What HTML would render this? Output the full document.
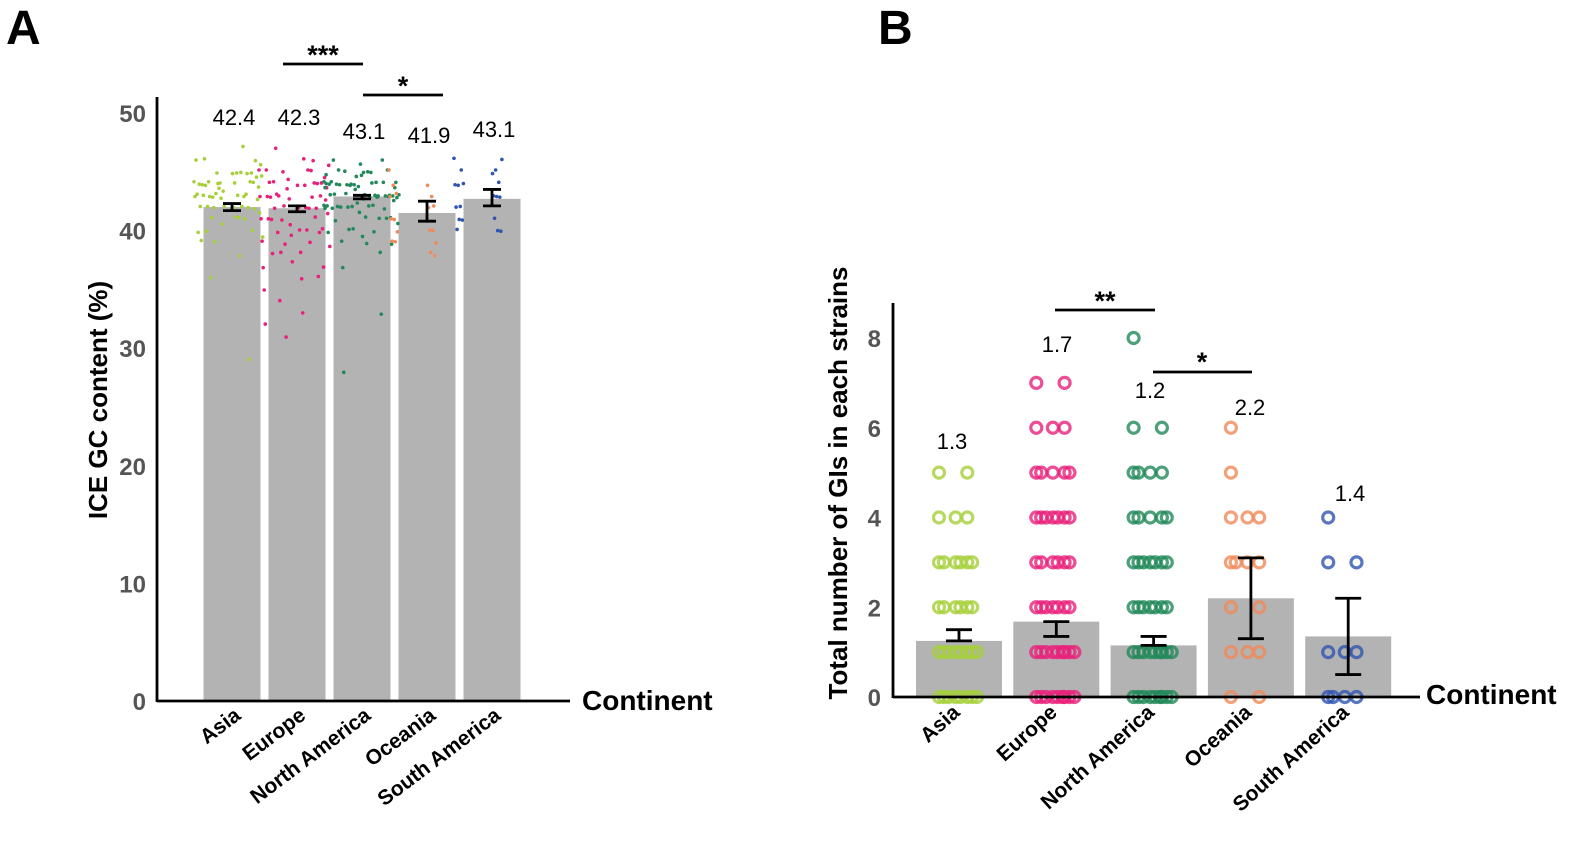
<!DOCTYPE html>
<html><head><meta charset="utf-8"><style>
html,body{margin:0;padding:0;background:#fff;}
svg{display:block;font-family:"Liberation Sans",Arial,sans-serif;}
</style></head><body>
<svg id="fig" width="1594" height="855" viewBox="0 0 1594 855"></svg>
<script>
const NS="http://www.w3.org/2000/svg";
const svg=document.getElementById('fig');
// ---- data ----
const categories=["Asia","Europe","North America","Oceania","South America"];
const colors=["#a6cf3a","#e8207a","#22885a","#f08a5a","#2f55b0"];
const gcMeans=[42.0,41.9,42.9,41.5,42.7];
const gcLabels=["42.4","42.3","43.1","41.9","43.1"];
const gcErrLo=[41.7,41.6,42.7,40.8,42.1];
const gcErrHi=[42.3,42.1,43.0,42.5,43.5];
const gcTicks=[0,10,20,30,40,50];
const gcAsia=[44,45,43,42,46,44,43,41,40,45,44,43,42,41,39,38,44,45,43,42,46,47,44,43,40,41,42,43,44,45,43,42,36,29,41,44,43,45,42,40,39,44,43,42,45,46,44,44.5,43.5,42.5,44.2,43.8,42.8,41.5,40.5,45.5,43.2,44.8,42.2,39.5];
const gcEurope=[45,44,43,42,41,40,39,38,37,36,35,33,32,46,45,44,43,42,41,40,44,45,43,42,41,39,38,45,44,43,42,46,47,44,43,41,40,42,43,44,34,36,38,40,41,43,45,44,42,40,39,37,31,44.5,43.5,42.5,44.2,43.8,42.8,41.5,40.5,45.5,39.5,38.5,37.5];
const gcNA=[44,43,42,45,44,43,42,41,40,39,44,45,43,42,44,43,42,45,46,44,43,42,41,40,44,43,42,44,45,43,44,43,42,41,39,38,37,33,28,46,45,44,43,42,44,43,42,41,40,45,44,43,44,43,42,41,40,39,44,43,43.5,42.5,44.5,43.5,42.5,44.2,43.8,42.8,41.5,40.5,45.5,43.2,44.8,42.2,39.5,43.6,42.6,44.6];
const gcOceania=[45,44,43,42,41,40,39,38,44,43,41,40,39,42,43,38,40,39];
const gcSA=[46,45,44,43,42,41,40,45,44,43,41,40,42,44,45,43,41,40,44,46];
const giMeans=[1.25,1.68,1.15,2.2,1.35];
const giLabels=["1.3","1.7","1.2","2.2","1.4"];
const giErrLo=[1.25,1.35,1.15,1.3,0.5];
const giErrHi=[1.5,1.68,1.35,3.1,2.2];
const giTicks=[0,2,4,6,8];
const giAsia=[0,0,0,0,0,0,0,0,1,1,1,1,1,1,1,1,2,2,2,2,2,2,3,3,3,3,3,3,4,4,4,5,5];
const giEurope=[0,0,0,0,0,0,0,0,0,1,1,1,1,1,1,1,1,1,2,2,2,2,2,2,2,3,3,3,3,3,3,4,4,4,4,4,4,4,5,5,5,5,5,6,6,6,7,7];
const giNA=[0,0,0,0,0,0,0,0,0,1,1,1,1,1,1,1,1,1,2,2,2,2,2,2,2,3,3,3,3,3,3,3,4,4,4,4,4,5,5,5,5,6,6,8];
const giOceania=[0,0,1,1,1,2,2,3,3,3,3,4,4,4,5,6];
const giSA=[0,0,0,0,1,1,1,3,3,4];
const gcPoints=[gcAsia,gcEurope,gcNA,gcOceania,gcSA];
const giPoints=[giAsia,giEurope,giNA,giOceania,giSA];

function el(tag,attrs,parent){const e=document.createElementNS(NS,tag);for(const k in attrs)e.setAttribute(k,attrs[k]);(parent||svg).appendChild(e);return e;}
function txt(s,attrs,parent){const e=el('text',attrs,parent);e.textContent=s;return e;}

// ---- Panel A ----
const A={x0:157,yTop:97,y0:701,scale:(701-113)/50,c0:232,step:65,bw:57};
const ay=v=>A.y0-v*A.scale, ax=i=>A.c0+i*A.step;
const gA=el('g',{});

let t=txt('A',{x:6,y:44,'font-size':48,'font-weight':'bold'},gA);

categories.forEach((c,i)=>{
  const r=el('rect',{x:ax(i)-A.bw/2,y:ay(gcMeans[i]),width:A.bw,height:A.y0-ay(gcMeans[i]),fill:'#b3b3b3'},gA);
  
});
gcPoints.forEach((arr,i)=>{arr.forEach((v,j)=>{
  const jx=(((j*37)%73)/73-0.5)*76;
  const d=el('circle',{cx:ax(i)+jx,cy:ay(v)+(((j*13)%7)-3)*0.6,r:1.8,fill:colors[i]},gA);
  
});});
categories.forEach((c,i)=>{
  const g=el('g',{stroke:'#000','stroke-width':2.8},gA);
  
  el('line',{x1:ax(i),x2:ax(i),y1:ay(gcErrLo[i]),y2:ay(gcErrHi[i])},g);
  el('line',{x1:ax(i)-9,x2:ax(i)+9,y1:ay(gcErrLo[i]),y2:ay(gcErrLo[i])},g);
  el('line',{x1:ax(i)-9,x2:ax(i)+9,y1:ay(gcErrHi[i]),y2:ay(gcErrHi[i])},g);
});
const aLabY=[117,117,131,135,129];
categories.forEach((c,i)=>{
  const l=txt(gcLabels[i],{x:ax(i)+2,y:aLabY[i]+8,'font-size':22,'text-anchor':'middle'},gA);
  
  const cl=txt(c,{transform:`translate(${ax(i)+10},${A.y0+17}) rotate(-37)`,'font-size':21,'font-weight':'bold','text-anchor':'end'},gA);
  
});
el('line',{x1:A.x0,x2:A.x0,y1:A.yTop,y2:A.y0+1,stroke:'#000','stroke-width':2.8},gA);
el('line',{x1:A.x0,x2:570,y1:A.y0,y2:A.y0,stroke:'#000','stroke-width':2.8},gA);
gcTicks.forEach(v=>{const k=txt(String(v),{x:146,y:ay(v)+9,'font-size':24,'font-weight':'bold',fill:'#555','text-anchor':'end'},gA);
  });
t=txt('ICE GC content (%)',{transform:'translate(107,400) rotate(-90)','font-size':26,'font-weight':'bold','text-anchor':'middle'},gA);

t=txt('Continent',{x:582,y:710,'font-size':28,'font-weight':'bold'},gA);

el('line',{x1:283,x2:363,y1:64,y2:64,stroke:'#000','stroke-width':2.8},gA);
t=txt('***',{x:323,y:64,'font-size':27,'font-weight':'bold','text-anchor':'middle'},gA);

el('line',{x1:363,x2:443,y1:95,y2:95,stroke:'#000','stroke-width':2.8},gA);
t=txt('*',{x:403,y:95,'font-size':27,'font-weight':'bold','text-anchor':'middle'},gA);


// ---- Panel B ----
const B={x0:893,yTop:303,y0:697,scale:(697-338)/8,c0:959,step:97.3,bw:86};
const by=v=>B.y0-v*B.scale, bx=i=>B.c0+i*B.step;
const gB=el('g',{});

t=txt('B',{x:878,y:44,'font-size':48,'font-weight':'bold'},gB);

categories.forEach((c,i)=>{
  const r=el('rect',{x:bx(i)-B.bw/2,y:by(giMeans[i]),width:B.bw,height:B.y0-by(giMeans[i]),fill:'#b3b3b3'},gB);
  
});
giPoints.forEach((arr,i)=>{
  const cnt={};
  arr.forEach((v)=>{
    const k=cnt[v]||0;cnt[v]=k+1;
    const jx=(((k*29)%41)/41-0.5)*40;
    const d=el('circle',{cx:bx(i)+jx,cy:by(v),r:5.5,fill:'none',stroke:colors[i],'stroke-width':3.2,'stroke-opacity':0.8},gB);
    
  });
});
categories.forEach((c,i)=>{
  const g=el('g',{stroke:'#000','stroke-width':2.8},gB);
  
  el('line',{x1:bx(i),x2:bx(i),y1:by(giErrLo[i]),y2:by(giErrHi[i])},g);
  el('line',{x1:bx(i)-13,x2:bx(i)+13,y1:by(giErrLo[i]),y2:by(giErrLo[i])},g);
  el('line',{x1:bx(i)-13,x2:bx(i)+13,y1:by(giErrHi[i]),y2:by(giErrHi[i])},g);
});
const bLab=[[952,441],[1057,344],[1150,390],[1250,407],[1350,493]];
categories.forEach((c,i)=>{
  const l=txt(giLabels[i],{x:bLab[i][0],y:bLab[i][1]+8,'font-size':22,'text-anchor':'middle'},gB);
  
  const cl=txt(c,{transform:`translate(${bx(i)+2},${B.y0+17}) rotate(-42)`,'font-size':21,'font-weight':'bold','text-anchor':'end'},gB);
  
});
el('line',{x1:B.x0,x2:B.x0,y1:B.yTop,y2:B.y0+1,stroke:'#000','stroke-width':2.8},gB);
el('line',{x1:B.x0,x2:1420,y1:B.y0,y2:B.y0,stroke:'#000','stroke-width':2.8},gB);
giTicks.forEach(v=>{const k=txt(String(v),{x:881,y:by(v)+9,'font-size':24,'font-weight':'bold',fill:'#555','text-anchor':'end'},gB);
  });
t=txt('Total number of GIs in each strains',{transform:'translate(847,483) rotate(-90)','font-size':26,'font-weight':'bold','text-anchor':'middle'},gB);

t=txt('Continent',{x:1426,y:704,'font-size':28,'font-weight':'bold'},gB);

el('line',{x1:1055,x2:1155,y1:310,y2:310,stroke:'#000','stroke-width':2.8},gB);
t=txt('**',{x:1105,y:310,'font-size':27,'font-weight':'bold','text-anchor':'middle'},gB);

el('line',{x1:1153,x2:1252,y1:372,y2:372,stroke:'#000','stroke-width':2.8},gB);
t=txt('*',{x:1202,y:371,'font-size':27,'font-weight':'bold','text-anchor':'middle'},gB);

</script>
</body></html>
